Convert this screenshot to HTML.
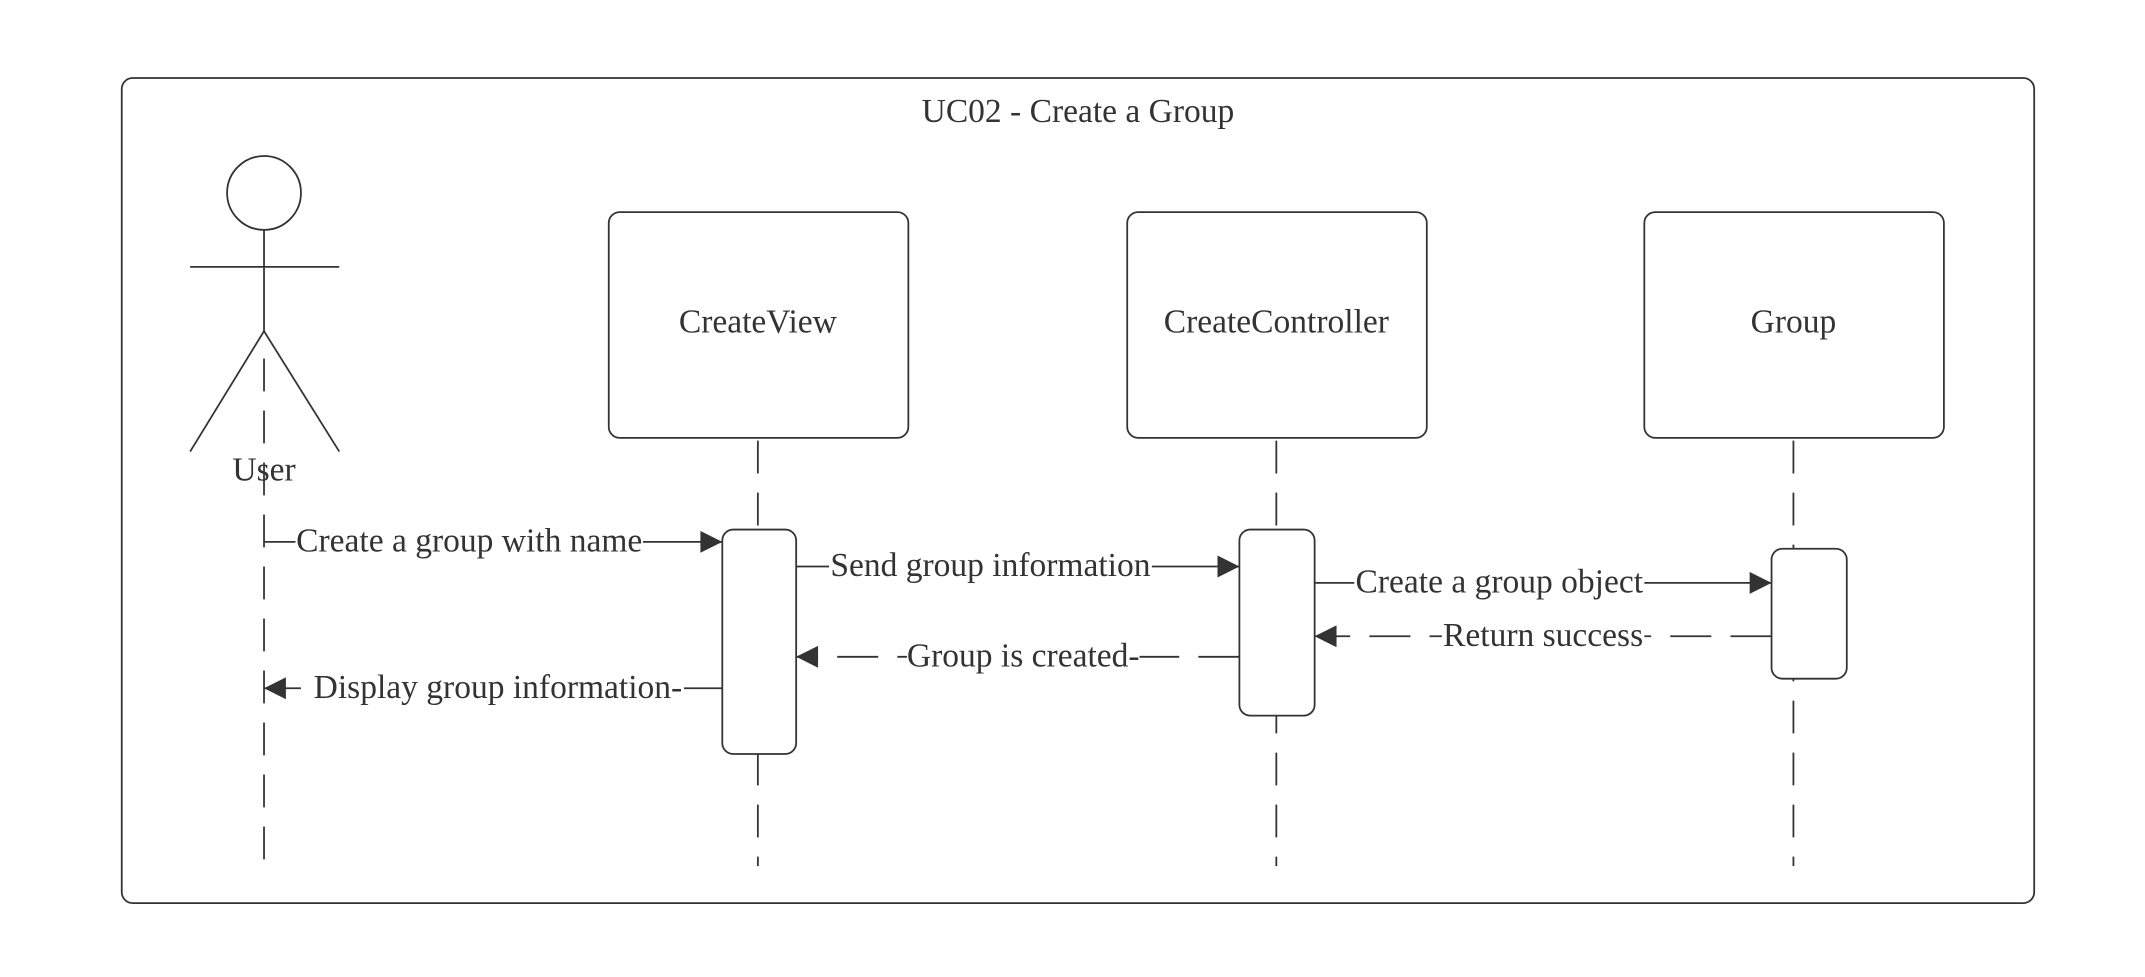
<!DOCTYPE html>
<html><head><meta charset="utf-8"><style>html,body{margin:0;padding:0;background:#fff}svg{display:block}</style></head>
<body>
<svg width="2145" height="977" viewBox="0 0 1568 714" preserveAspectRatio="none" xmlns="http://www.w3.org/2000/svg" font-family="Liberation Serif, serif" font-size="24.5" fill="#333">
<defs><marker id="a" viewBox="0 0 10 10" refX="10" refY="5" markerWidth="22" markerHeight="16" markerUnits="userSpaceOnUse" orient="auto"><path d="M0,0L10,5L0,10z" fill="#333"/></marker></defs>
<g stroke="#333" stroke-width="1.3" fill="none">
<rect x="89" y="57" width="1398" height="603" rx="8"/>
<circle cx="193" cy="141" r="27"/>
<line x1="139" y1="195" x2="248" y2="195"/>
<line x1="193" y1="168" x2="193" y2="242"/>
<path d="M139,330L193,242L248,330"/>
<rect x="445" y="155" width="219" height="165" rx="8"/>
<rect x="824" y="155" width="219" height="165" rx="8"/>
<rect x="1202" y="155" width="219" height="165" rx="8"/>
<g stroke-dasharray="24,14">
<line x1="193" y1="262" x2="193" y2="633"/>
<line x1="554" y1="322" x2="554" y2="633"/>
<line x1="933" y1="322" x2="933" y2="633"/>
<line x1="1311" y1="322" x2="1311" y2="633"/>
</g>
<rect x="528" y="387" width="54" height="164" rx="8" fill="#fff"/>
<rect x="906" y="387" width="55" height="136" rx="8" fill="#fff"/>
<rect x="1295" y="401" width="55" height="95" rx="8" fill="#fff"/>
<line x1="193" y1="396" x2="528" y2="396" marker-end="url(#a)"/>
<line x1="582" y1="414" x2="906" y2="414" marker-end="url(#a)"/>
<line x1="961" y1="426" x2="1295" y2="426" marker-end="url(#a)"/>
<g stroke-dasharray="30,14">
<line x1="1295" y1="465" x2="961" y2="465" marker-end="url(#a)"/>
<line x1="906" y1="480" x2="582" y2="480" marker-end="url(#a)"/>
<line x1="528" y1="503" x2="193" y2="503" marker-end="url(#a)"/>
</g>
</g>
<g text-anchor="middle">
<text x="788" y="89">UC02 - Create a Group</text>
<text x="193" y="351">User</text>
<text x="554" y="243">CreateView</text>
<text x="933" y="243">CreateController</text>
<text x="1311" y="243">Group</text>
</g>
<g text-anchor="middle">
<rect x="216" y="382" width="254" height="26" fill="#fff"/><text x="343" y="403">Create a group with name</text>
<rect x="606" y="400" width="236" height="26" fill="#fff"/><text x="724" y="421">Send group information</text>
<rect x="990" y="412" width="212" height="26" fill="#fff"/><text x="1096" y="433">Create a group object</text>
<rect x="1054" y="451" width="148" height="26" fill="#fff"/><text x="1128" y="472">Return success</text>
<rect x="663" y="466" width="170" height="26" fill="#fff"/><text x="748" y="487">Group is created-</text>
<rect x="228" y="489" width="272" height="26" fill="#fff"/><text x="364" y="510">Display group information-</text>
</g>
</svg>
</body></html>
